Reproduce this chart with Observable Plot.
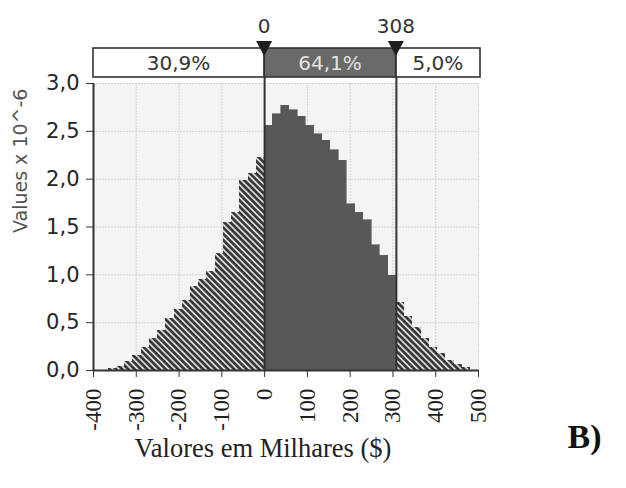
<!DOCTYPE html>
<html>
<head>
<meta charset="utf-8">
<script src="https://cdn.jsdelivr.net/npm/d3@7"></script>
<script src="https://cdn.jsdelivr.net/npm/@observablehq/plot@0.6"></script>
<style>
  html, body { margin: 0; padding: 0; background: #fff; }
</style>
</head>
<body>
<script>
// ---- data ----
const binWidth = 19.25;
const cutoffs = [0, 308];
const cutoffLabels = ["0", "308"];
const pctLabels = ["30,9%", "64,1%", "5,0%"];
// striped bins left of 0 (left to right), values x 10^-6
const lowerHeights = [0.02, 0.04, 0.09, 0.16, 0.24, 0.33, 0.42, 0.54, 0.64, 0.73,
                      0.88, 0.95, 1.03, 1.22, 1.55, 1.65, 1.99, 2.06, 2.23];
// dark bins between 0 and 308
const middleHeights = [2.56, 2.68, 2.77, 2.72, 2.65, 2.56, 2.47, 2.40, 2.30, 2.19,
                       1.74, 1.65, 1.57, 1.31, 1.20, 0.99];
// striped bins right of 308
const upperHeights = [0.71, 0.56, 0.45, 0.33, 0.24, 0.18, 0.10, 0.06, 0.03];
const xTicks = [-400, -300, -200, -100, 0, 100, 200, 300, 400, 500];
const yTicks = [0, 0.5, 1, 1.5, 2, 2.5, 3];
const xDomain = [-400, 500];
const yDomain = [0, 3];
const yLabel = "Values x 10^-6";
const xLabel = "Valores em Milhares ($)";
const panelLabel = "B)";

// ---- build bin tables ----
const lowerBins = lowerHeights.map((h, i) => ({
  x1: cutoffs[0] - (lowerHeights.length - i) * binWidth,
  x2: cutoffs[0] - (lowerHeights.length - i - 1) * binWidth, h}));
const middleBins = middleHeights.map((h, i) => ({
  x1: cutoffs[0] + i * binWidth, x2: cutoffs[0] + (i + 1) * binWidth, h}));
const upperBins = upperHeights.map((h, i) => ({
  x1: cutoffs[1] + i * binWidth, x2: cutoffs[1] + (i + 1) * binWidth, h}));
const stripedBins = lowerBins.concat(upperBins);

const fmtY = d => d.toFixed(1).replace(".", ",");
const fmtX = d => String(d);

const plot = Plot.plot({
  width: 626,
  height: 488,
  marginLeft: 93,
  marginRight: 148,
  marginTop: 83,
  marginBottom: 118,
  x: {domain: xDomain},
  y: {domain: yDomain},
  style: {fontFamily: "DejaVu Sans", color: "#333", background: "#fff", overflow: "visible"},
  marks: [
    Plot.frame({fill: "#f4f4f4", stroke: null}),
    Plot.gridX(xTicks, {stroke: "#d2d2d2", strokeOpacity: 1, strokeDasharray: "2,1"}),
    Plot.gridY(yTicks, {stroke: "#d2d2d2", strokeOpacity: 1, strokeDasharray: "2,1"}),
    Plot.rectY(stripedBins, {x1: "x1", x2: "x2", y: "h", fill: "url(#stripes)", shapeRendering: "crispEdges"}),
    Plot.rectY(middleBins, {x1: "x1", x2: "x2", y: "h", fill: "#585858", stroke: "#585858", strokeWidth: 0.6, shapeRendering: "crispEdges"}),
    Plot.ruleX(cutoffs, {stroke: "#333", strokeWidth: 2, insetTop: -6}),
    Plot.ruleX([xDomain[0]], {stroke: "#333", strokeWidth: 2}),
    Plot.ruleY([yDomain[0]], {stroke: "#333", strokeWidth: 2}),
    Plot.axisY(yTicks, {tickSize: 7, tickPadding: 7, fontSize: 21, tickFormat: fmtY, label: null, fill: "#262626"}),
    Plot.axisX(xTicks, {tickRotate: -90, tickSize: 7, tickPadding: 11, fontSize: 23, tickFormat: fmtX,
      fontFamily: "Liberation Serif", label: null, fill: "#1e1e1e"}),
    Plot.text([yLabel], {frameAnchor: "left", rotate: -90, dx: -73, dy: 6, fontSize: 19, fill: "#555"}),
    Plot.text([xLabel], {frameAnchor: "bottom", dx: -23, dy: 86, fontFamily: "Liberation Serif", fontSize: 26.5, fill: "#222"}),
    Plot.text([panelLabel], {frameAnchor: "bottom-right", dx: 123, dy: 77, fontFamily: "Liberation Serif",
      fontWeight: "bold", fontSize: 34, fill: "#111"})
  ]
});

document.body.appendChild(plot);

// ---- pattern defs and top delimiter bar ----
const svg = d3.select(plot);
const defs = svg.insert("defs", ":first-child");
const pat = defs.append("pattern").attr("id", "stripes")
  .attr("patternUnits", "userSpaceOnUse").attr("width", 4.4).attr("height", 4.4)
  .attr("patternTransform", "rotate(-45)");
pat.append("rect").attr("width", 4.4).attr("height", 4.4).attr("fill", "#d8d8d8");
pat.append("rect").attr("width", 2.6).attr("height", 4.4).attr("fill", "#363636");

const xs = plot.scale("x");
const boxTop = 48, boxH = 29;
const edges = [xDomain[0], cutoffs[0], cutoffs[1], xDomain[1]];
const g = svg.append("g");
const segFill = ["#fff", "#6a6a6a", "#fff"];
const segText = ["#333", "#e2e2e2", "#333"];
for (let i = 0; i < 3; i++) {
  const a = xs.apply(edges[i]), b = xs.apply(edges[i + 1]) + (i === 2 ? 2 : 0);
  g.append("rect").attr("x", a).attr("y", boxTop).attr("width", b - a).attr("height", boxH)
    .attr("fill", segFill[i]);
  g.append("text").attr("x", (a + b) / 2).attr("y", boxTop + boxH / 2).attr("dy", "0.36em")
    .attr("text-anchor", "middle").attr("font-family", "DejaVu Sans").attr("font-size", 20)
    .attr("fill", segText[i]).text(pctLabels[i]);
}
g.append("rect").attr("x", xs.apply(xDomain[0])).attr("y", boxTop)
  .attr("width", xs.apply(xDomain[1]) + 2 - xs.apply(xDomain[0])).attr("height", boxH)
  .attr("fill", "none").attr("stroke", "#333").attr("stroke-width", 1.6);
cutoffs.forEach((c, i) => {
  const cx = xs.apply(c);
  g.append("line").attr("x1", cx).attr("x2", cx).attr("y1", boxTop).attr("y2", boxTop + boxH)
    .attr("stroke", "#333").attr("stroke-width", 2);
  g.append("path").attr("d", `M${cx - 8},41L${cx + 8},41L${cx},56Z`).attr("fill", "#1e1e1e");
  g.append("text").attr("x", cx).attr("y", 26).attr("dy", "0.36em").attr("text-anchor", "middle")
    .attr("font-family", "DejaVu Sans").attr("font-size", 20).attr("fill", "#333").text(cutoffLabels[i]);
});
</script>
</body>
</html>
